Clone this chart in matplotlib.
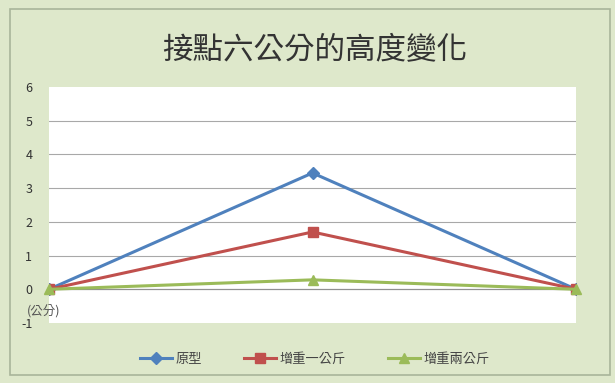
import matplotlib
matplotlib.use("Agg")
import matplotlib.pyplot as plt
from matplotlib.patches import Rectangle

plt.rcParams['font.family'] = ['Noto Sans CJK TC', 'DejaVu Sans']

categories = ["起點", "中點", "終點"]
series_names = ["原型", "增重一公斤", "增重兩公斤"]
original = [0, 3.45, 0]
plus_one_kg = [0, 1.7, 0]
plus_two_kg = [0, 0.28, 0]
yticks = [-1, 0, 1, 2, 3, 4, 5, 6]

fig = plt.figure(figsize=(6.15, 3.83), dpi=100)
fig.patch.set_facecolor('#dee8cb')
fig.patches.append(Rectangle((10/615, 8/383), 600/615, 366/383, transform=fig.transFigure,
                             fill=False, edgecolor='#a9b59a', linewidth=1.2))

ax = fig.add_axes([49/615, 1 - 323/383, (576-49)/615, (323-87)/383])
ax.set_facecolor('white')

x = list(range(len(categories)))
ax.plot(x, original, color='#4f81bd', lw=2.2, marker='D', ms=6, label=series_names[0], zorder=3)
ax.plot(x, plus_one_kg, color='#c0504d', lw=2.2, marker='s', ms=7, label=series_names[1], zorder=4)
ax.plot(x, plus_two_kg, color='#9bbb59', lw=2.2, marker='^', ms=7, label=series_names[2], zorder=5,
        clip_on=False)

ax.set_xlim(0, len(categories) - 1)
ax.set_ylim(-1, 6)
ax.set_yticks(yticks)
ax.set_yticklabels([str(v) for v in yticks], fontsize=9, color='#333333')
ax.set_xticks([])
ax.tick_params(axis='y', length=0, pad=12)
for y in [1, 2, 3, 4, 5]:
    ax.axhline(y, color='#a8a8a8', lw=0.8, zorder=1)
ax.axhline(0, color='#909090', lw=0.9, zorder=1)
for s in ax.spines.values():
    s.set_visible(False)

fig.text(315/615, 1 - 51/383, "接點六公分的高度變化", ha='center', va='center',
         fontsize=22, color='#333333')
fig.text(27/615, 1 - 311/383, "(公分)", ha='left', va='center', fontsize=9, color='#555555')

leg = fig.legend(loc='center', bbox_to_anchor=(315/615, 1 - 359/383), ncol=3, frameon=False,
                 fontsize=9.5, handlelength=2.4, columnspacing=3.2, handletextpad=0.3)
for t in leg.get_texts():
    t.set_color('#444444')

fig.savefig('out.png', dpi=100, facecolor=fig.get_facecolor())
